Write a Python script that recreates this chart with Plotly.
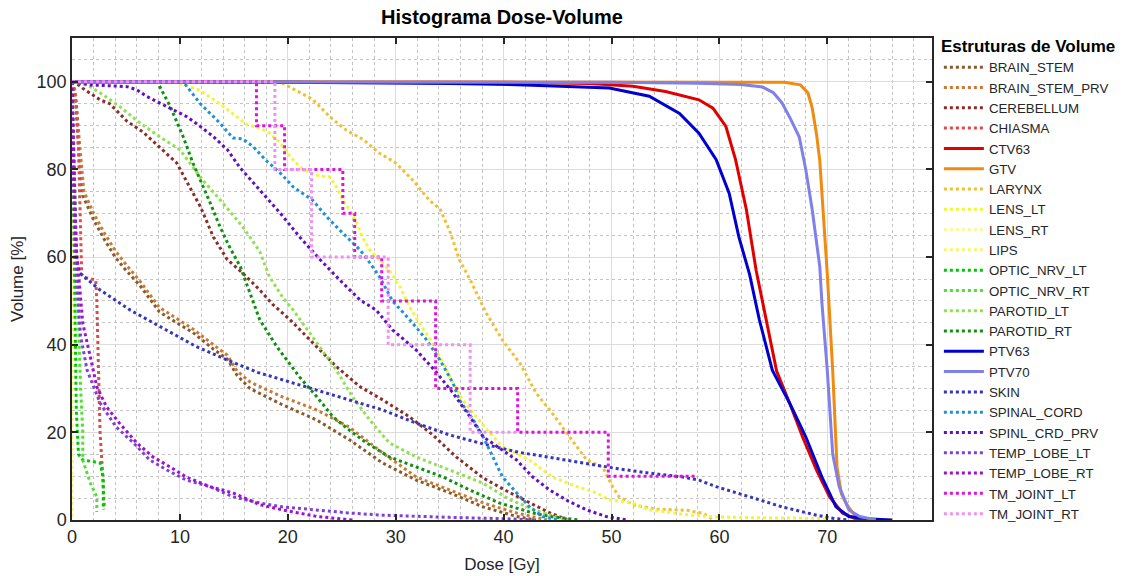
import plotly.graph_objects as go

# ---------------- data (dose [Gy], volume [%]) ----------------
BRAIN_STEM_DOSE = [0, 0.3, 0.6, 1, 2, 3, 4, 5, 6.3, 7.2, 8.1, 9.7, 11.2, 13.1, 14.4, 15.3, 16.5, 19.5, 22.7, 25.7, 28.8, 31.9, 35, 38.1, 41.2, 43]
BRAIN_STEM_VOL = [100, 97, 85, 74, 68.5, 64, 60, 57, 53.5, 50.5, 47.5, 45, 42.8, 39, 36.7, 33, 30, 26.3, 22.8, 18.3, 13, 9.1, 6.2, 3, 0.8, 0]

BRAIN_STEM_PRV_DOSE = [0, 0.3, 0.7, 1.1, 2, 3, 4, 5.1, 6.3, 7.2, 8.1, 9.7, 11.2, 13.1, 14.4, 15.3, 16.5, 19.5, 22.7, 25.7, 28.8, 31.9, 35, 38.1, 41.2, 44]
BRAIN_STEM_PRV_VOL = [100, 98, 86, 75, 70, 65.5, 61.5, 58, 54.5, 51.5, 48.5, 46, 43.6, 40, 37.6, 34, 31.5, 28.1, 25.1, 21.2, 15.3, 9.8, 6.8, 3.9, 1.6, 0]

CEREBELLUM_DOSE = [0, 0.5, 1, 2.6, 3.5, 5.1, 6.6, 7.9, 9.7, 10.9, 11.9, 13.1, 14.4, 15.8, 17.4, 18.6, 20.2, 22.7, 24.5, 26.7, 28.8, 31.3, 33.4, 35.6, 38.1, 40.6, 43.1, 44.3, 46]
CEREBELLUM_VOL = [100, 99.5, 98.5, 95.9, 95, 91, 88.5, 85.5, 81.5, 76, 71.5, 64.6, 59.4, 56.4, 52.5, 49.2, 45.7, 39.5, 35, 30.4, 27.4, 23.5, 19.5, 14.4, 9.6, 6.2, 3, 1.6, 0]

CHIASMA_DOSE = [0, 0.4, 0.6, 0.7, 0.8, 0.9, 1.2, 2.2, 2.3, 2.4, 2.5, 2.6, 2.8, 2.9, 3.0]
CHIASMA_VOL = [100, 95, 85, 75, 65, 56, 55.3, 54.8, 50, 40, 30, 20, 12, 8.4, 2.5]

CTV63_DOSE = [0, 40, 48, 52, 55, 58.1, 59.4, 60.6, 61.5, 62.5, 63.4, 64, 65.3, 66.5, 67.7, 69, 70.2, 71.4, 72.5, 73.5]
CTV63_VOL = [100, 99.9, 99.6, 99, 97.8, 95.9, 94, 89.8, 82.2, 70.8, 57, 49.5, 34, 26.7, 19, 11.4, 5.3, 1.6, 0.4, 0]

GTV_DOSE = [0, 62, 66, 67.5, 68.2, 68.6, 69.0, 69.3, 69.7, 70.0, 70.5, 70.9, 71.3, 71.8, 72.5, 73.5, 74]
GTV_VOL = [100, 100, 99.9, 99.3, 97.5, 94, 88, 82, 67, 56, 34, 12, 6, 3.5, 1.2, 0.2, 0]

LARYNX_DOSE = [0, 18, 19.5, 20.8, 22.3, 23.9, 25.4, 27, 28.5, 30, 31.6, 33.1, 34.1, 35, 35.9, 36.9, 38.4, 39.9, 41.5, 43, 44.5, 46.1, 47.7, 49.2, 50.1, 50.7, 52, 54, 57, 58.5, 59.5]
LARYNX_VOL = [100, 100, 99.7, 98, 96, 92, 89, 86.8, 83.7, 81.5, 77.5, 73, 71, 66, 59.4, 54.8, 47.2, 41, 35.8, 29, 24.4, 19, 13.7, 12, 7.6, 5.3, 3.5, 2.5, 2.2, 1.5, 0]

LENS_LT_DOSE = [0, 9.7, 11.9, 13.7, 15.3, 16.2, 17.4, 18.3, 19.3, 20.2, 21.1, 22, 23, 23.9, 24.5, 25.1, 25.7, 26.4, 26.9, 27.6, 28.5, 29.4, 30.4, 31.3, 32.2, 33.4, 34.4, 35.3, 36.2, 37.5, 38.7, 39.9, 42.4, 44.5, 46.8, 48.6, 49.8, 51.9, 53.5, 57, 59.7, 64, 69, 70]
LENS_LT_VOL = [100, 100, 98, 95, 92, 90.2, 89.5, 88.3, 86, 83, 80.6, 79.2, 78.5, 78.3, 76, 73, 70.8, 67.8, 64.6, 61.6, 59.4, 57, 53.2, 48.6, 44.9, 40.4, 35.8, 31.3, 27.4, 23.5, 19.9, 16.7, 13.7, 9.8, 7.6, 6.2, 4.6, 3.9, 2.3, 1.2, 0.7, 0.5, 0.4, 0]

LENS_RT_DOSE = [0, 0, 0]
LENS_RT_VOL = [100, 50, 0]

LIPS_DOSE = [0, 0, 0]
LIPS_VOL = [100, 50, 0]

OPTIC_NRV_LT_DOSE = [0, 0.1, 0.2, 0.3, 0.4, 0.6, 1, 2, 2.6, 2.9, 2.9]
OPTIC_NRV_LT_VOL = [100, 80, 60, 40, 25, 15, 13.7, 13.3, 13, 9.8, 2.3]

OPTIC_NRV_RT_DOSE = [0, 0.2, 0.4, 0.6, 0.8, 1, 1, 1.7, 2.3, 2.3]
OPTIC_NRV_RT_VOL = [100, 80, 60, 45, 30, 20, 13.7, 8.4, 5.3, 1.8]

PAROTID_LT_DOSE = [0, 1.4, 2.6, 4.4, 6.3, 8.1, 10, 11.2, 12.1, 13.4, 14.6, 15.8, 17.4, 18.3, 19.5, 20.5, 22.7, 24.5, 26, 27.6, 29.4, 31.9, 35, 38.1, 40.6, 43.6, 46]
PAROTID_LT_VOL = [100, 99.3, 97.5, 94.4, 90.6, 87.5, 84.5, 80.6, 77.6, 74, 70.4, 67, 61.3, 55.5, 50.9, 47.9, 40.4, 34.2, 28.1, 22.8, 17.6, 14.4, 11.4, 8.4, 4.6, 1.6, 0]

PAROTID_RT_DOSE = [0, 7.9, 9.1, 10.3, 11.2, 11.9, 12.8, 13.7, 14.6, 15.6, 16.5, 17.4, 19, 21.1, 22.7, 24.2, 25.7, 27.3, 29.4, 31.9, 34.4, 36.9, 39.6, 42.7, 44.3, 47]
PAROTID_RT_VOL = [100, 100, 94.4, 87.5, 81.5, 77.6, 72.4, 67, 62.3, 57.8, 51.8, 45.7, 39.5, 32.6, 28.1, 23.5, 20.5, 17.6, 14.4, 12.1, 9.8, 6.8, 3.9, 1.6, 0.8, 0]

PTV63_DOSE = [0, 20, 35, 42, 49.8, 53.5, 56.3, 58.1, 59.7, 60.9, 61.8, 62.8, 63.7, 64.9, 66.5, 68, 69.5, 70.8, 72, 74, 76]
PTV63_VOL = [100, 99.9, 99.6, 99.3, 98.6, 96.7, 92.8, 88.3, 82.2, 74.6, 64.6, 56, 45.7, 34.2, 26.7, 19, 9.8, 3, 0.8, 0.2, 0]

PTV70_DOSE = [0, 50, 58, 62, 64, 65, 65.8, 66.6, 67.4, 68, 68.6, 69.3, 69.5, 70, 70.5, 71.1, 72, 73, 74.5]
PTV70_VOL = [100, 99.9, 99.7, 99.4, 98.8, 97.5, 95.2, 91.5, 87.4, 80, 70.8, 57.8, 49.5, 34, 15, 7.6, 2.3, 0.8, 0]

SKIN_DOSE = [0, 0.2, 0.4, 0.7, 2.6, 5.4, 8.5, 11.5, 14.4, 17.2, 19.5, 22.7, 25.7, 28.8, 31.9, 35, 38.2, 41.3, 44.4, 47.5, 50.6, 53.5, 56.6, 58.1, 59.7, 62.8, 65.8, 69, 70.5, 72]
SKIN_VOL = [100, 80, 60, 56.4, 52.5, 47.9, 43.7, 39.6, 36.5, 33.7, 32, 29.7, 27.4, 25.1, 22.1, 19.4, 17.3, 15.5, 14.2, 13, 11.7, 10.7, 9.8, 9.1, 7.6, 5.3, 3, 1.1, 0.4, 0]

SPINAL_CORD_DOSE = [0, 10.3, 11.9, 13.7, 14.9, 15.8, 16.8, 18, 19.3, 20.5, 22.3, 23.6, 24.8, 25.7, 26.7, 27.6, 28.5, 29.7, 31.3, 32.9, 34.1, 35.3, 35.9, 37.2, 38.1, 39, 39.9, 41.2, 42.4, 43.6, 45]
SPINAL_CORD_VOL = [100, 100, 95, 90.6, 87.2, 87, 85.2, 82, 79.2, 76, 73, 69.2, 66.2, 64, 61.6, 58.7, 55.5, 50, 45.7, 41, 36.5, 31.3, 27.4, 22.8, 19, 14.4, 9.8, 6.2, 3, 0.8, 0]

SPINL_CRD_PRV_DOSE = [0, 1.7, 3.5, 5.1, 6, 6.9, 8.1, 9.4, 10.6, 11.9, 13.1, 14.4, 15.6, 17.4, 19.3, 21.1, 23, 24.8, 26.7, 28.2, 29.7, 31.9, 33.8, 35.3, 36.9, 38.1, 39.4, 41.2, 42.7, 44.3, 46, 47.7, 49.5, 51.4]
SPINL_CRD_PRV_VOL = [100, 99.3, 99.1, 98.9, 98.2, 96.7, 95.2, 93.6, 92.1, 89.8, 87.5, 84.5, 80.3, 75.3, 70, 64.6, 59.4, 54.8, 50.2, 47.9, 43.4, 38.8, 33.6, 29, 23.5, 19, 16.7, 13.7, 9.8, 6.8, 4.3, 2.3, 0.8, 0]

TEMP_LOBE_LT_DOSE = [0, 0.1, 0.2, 0.4, 0.8, 1.4, 2.6, 4.1, 5.7, 7.2, 8.8, 10.6, 12.8, 14.9, 17.4, 19.5, 22.7, 25.7, 28.8, 31.9, 35, 40, 43]
TEMP_LOBE_LT_VOL = [100, 85, 70, 55, 42, 34.2, 26.7, 21.2, 17.6, 13.7, 11.4, 9.1, 7.6, 5.3, 3.9, 3, 2.3, 1.6, 1.1, 0.8, 0.6, 0.3, 0]

TEMP_LOBE_RT_DOSE = [0, 0.1, 0.2, 0.4, 0.7, 1, 1.7, 2.3, 3.2, 4.4, 6, 7.5, 9.1, 10.6, 12.8, 14.9, 17.4, 19.5, 22.7, 26]
TEMP_LOBE_RT_VOL = [100, 90, 75, 62, 52.5, 44.9, 37.2, 30.4, 25.8, 22.1, 17.6, 14.4, 12.1, 9.8, 7.6, 6.2, 3.5, 2.3, 0.8, 0]

TM_JOINT_LT_DOSE = [0, 17.1, 17.1, 19.7, 19.7, 25.1, 25.1, 26.2, 26.2, 28.7, 28.7, 33.7, 33.7, 41.3, 41.3, 49.7, 49.7, 58]
TM_JOINT_LT_VOL = [100, 100, 90, 90, 80, 80, 70, 70, 60, 60, 50, 50, 30, 30, 20, 20, 10, 10]

TM_JOINT_RT_DOSE = [0, 18.8, 18.8, 22.2, 22.2, 29.3, 29.3, 36.9, 36.9, 41.4]
TM_JOINT_RT_VOL = [100, 100, 80, 80, 60, 60, 40, 40, 20, 20]

STRUCTURES = [
    ("BRAIN_STEM", BRAIN_STEM_DOSE, BRAIN_STEM_VOL, "#8b5a2b", "dot"),
    ("BRAIN_STEM_PRV", BRAIN_STEM_PRV_DOSE, BRAIN_STEM_PRV_VOL, "#c87a35", "dot"),
    ("CEREBELLUM", CEREBELLUM_DOSE, CEREBELLUM_VOL, "#8b2c2c", "dot"),
    ("CHIASMA", CHIASMA_DOSE, CHIASMA_VOL, "#e04a4a", "dot"),
    ("CTV63", CTV63_DOSE, CTV63_VOL, "#e00000", "solid"),
    ("GTV", GTV_DOSE, GTV_VOL, "#f08a10", "solid"),
    ("LARYNX", LARYNX_DOSE, LARYNX_VOL, "#f0c030", "dot"),
    ("LENS_LT", LENS_LT_DOSE, LENS_LT_VOL, "#f5f532", "dot"),
    ("LENS_RT", LENS_RT_DOSE, LENS_RT_VOL, "#fafa9c", "dot"),
    ("LIPS", LIPS_DOSE, LIPS_VOL, "#f5f570", "dot"),
    ("OPTIC_NRV_LT", OPTIC_NRV_LT_DOSE, OPTIC_NRV_LT_VOL, "#00c800", "dot"),
    ("OPTIC_NRV_RT", OPTIC_NRV_RT_DOSE, OPTIC_NRV_RT_VOL, "#50e030", "dot"),
    ("PAROTID_LT", PAROTID_LT_DOSE, PAROTID_LT_VOL, "#90e050", "dot"),
    ("PAROTID_RT", PAROTID_RT_DOSE, PAROTID_RT_VOL, "#109010", "dot"),
    ("PTV63", PTV63_DOSE, PTV63_VOL, "#0000d0", "solid"),
    ("PTV70", PTV70_DOSE, PTV70_VOL, "#8080e8", "solid"),
    ("SKIN", SKIN_DOSE, SKIN_VOL, "#3535c0", "dot"),
    ("SPINAL_CORD", SPINAL_CORD_DOSE, SPINAL_CORD_VOL, "#2090d8", "dot"),
    ("SPINL_CRD_PRV", SPINL_CRD_PRV_DOSE, SPINL_CRD_PRV_VOL, "#6010c0", "dot"),
    ("TEMP_LOBE_LT", TEMP_LOBE_LT_DOSE, TEMP_LOBE_LT_VOL, "#8040d8", "dot"),
    ("TEMP_LOBE_RT", TEMP_LOBE_RT_DOSE, TEMP_LOBE_RT_VOL, "#a010d0", "dot"),
    ("TM_JOINT_LT", TM_JOINT_LT_DOSE, TM_JOINT_LT_VOL, "#e010e0", "dot"),
    ("TM_JOINT_RT", TM_JOINT_RT_DOSE, TM_JOINT_RT_VOL, "#f090f0", "dot"),
]

TITLE = "Histograma Dose-Volume"
X_TITLE = "Dose [Gy]"
Y_TITLE = "Volume [%]"
LEGEND_TITLE = "Estruturas de Volume"

FONT = "Arial, Liberation Sans, sans-serif"
AX = "#262626"

fig = go.Figure()
for name, xs, ys, col, dash in STRUCTURES:
    fig.add_trace(go.Scatter(
        x=xs, y=ys, mode="lines", name=name,
        line=dict(color=col, width=3, dash=dash),
    ))

axis_common = dict(
    showline=True, linecolor=AX, linewidth=1.5, mirror="ticks",
    ticks="inside", ticklen=6, tickwidth=1.5, tickcolor=AX,
    showgrid=True, gridcolor="#dcdcdc", gridwidth=1.2,
    zeroline=False, automargin=False,
    tickfont=dict(family=FONT, size=18, color=AX),
)

fig.update_xaxes(
    range=[0, 79.7], tick0=0, dtick=10,
    minor=dict(dtick=2, showgrid=True, gridcolor="#c4c4c4", griddash="dot", gridwidth=1, ticks=""),
    title=dict(text=X_TITLE, font=dict(family=FONT, size=17, color=AX), standoff=12),
    **axis_common,
)
fig.update_yaxes(
    range=[0, 110], tick0=0, dtick=20,
    tickvals=[0, 20, 40, 60, 80, 100],
    minor=dict(dtick=5, showgrid=True, gridcolor="#c4c4c4", griddash="dot", gridwidth=1, ticks=""),
    title=dict(text=Y_TITLE, font=dict(family=FONT, size=17, color=AX), standoff=9),
    **axis_common,
)

fig.update_layout(
    width=1130, height=576,
    margin=dict(l=72, r=198, t=38, b=56, autoexpand=False),
    paper_bgcolor="white", plot_bgcolor="white",
    title=dict(text="<b>" + TITLE + "</b>", x=502 / 1130, xanchor="center",
               y=1 - 17 / 576, yanchor="middle",
               font=dict(family=FONT, size=20, color="black")),
    legend=dict(
        title=dict(text="<b>" + LEGEND_TITLE + "</b>", font=dict(family=FONT, size=17, color="black")),
        y=1 + 8 / 482, yanchor="top",
        x=1.008, xanchor="left",
        font=dict(family=FONT, size=13.3, color=AX),
        bgcolor="rgba(0,0,0,0)", borderwidth=0,
        tracegroupgap=0, itemwidth=40, maxheight=540,
    ),
    showlegend=True,
)

fig.write_html("out.html")
